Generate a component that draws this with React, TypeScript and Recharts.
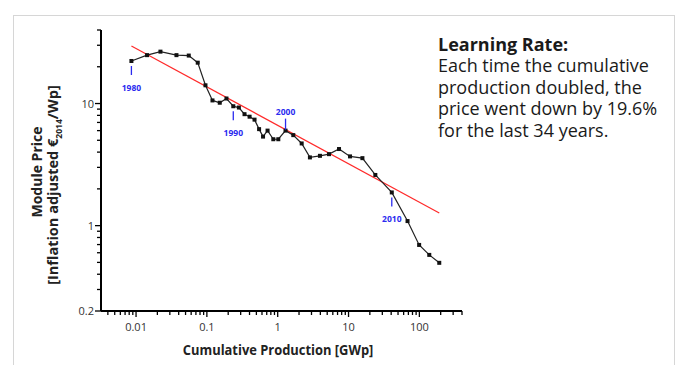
import React from 'react';
import { LineChart, Line, XAxis, YAxis } from 'recharts';

// years 1980 ... 2014
const years = [
  1980, 1981, 1982, 1983, 1984, 1985, 1986, 1987, 1988, 1989,
  1990, 1991, 1992, 1993, 1994, 1995, 1996, 1997, 1998, 1999,
  2000, 2001, 2002, 2003, 2004, 2005, 2006, 2007, 2008, 2009,
  2010, 2011, 2012, 2013, 2014,
];
// cumulative production [GWp]
const cumulativeGWp = [
  0.0086, 0.0143, 0.0221, 0.0372, 0.0555, 0.0743, 0.0955, 0.12, 0.152, 0.189,
  0.236, 0.283, 0.34, 0.401, 0.471, 0.546, 0.621, 0.719, 0.867, 1.02,
  1.29, 1.66, 2.18, 2.85, 3.95, 5.3, 7.34, 10.5, 15.7, 23.9,
  40.8, 68.1, 99.3, 138, 191,
];
// module price [EUR2014/Wp]
const modulePrice = [
  22.3, 24.9, 26.6, 24.9, 24.7, 21.6, 14.1, 10.6, 10.15, 10.99,
  9.5, 9.27, 8.18, 7.8, 7.38, 6.17, 5.36, 6.0, 5.1, 5.1,
  6.0, 5.51, 4.71, 3.62, 3.73, 3.85, 4.24, 3.69, 3.57, 2.6,
  1.87, 1.09, 0.695, 0.576, 0.496,
];
const labeledYears = [1980, 1990, 2000, 2010];

// learning curve fit (start / end)
const fitProd = [0.0086, 191];
const fitPrice = [29.6, 1.27];

const xMajor = [0.01, 0.1, 1, 10, 100];
const xMinor = [
  0.004, 0.005, 0.006, 0.007, 0.008, 0.009,
  0.02, 0.03, 0.04, 0.05, 0.06, 0.07, 0.08, 0.09,
  0.2, 0.3, 0.4, 0.5, 0.6, 0.7, 0.8, 0.9,
  2, 3, 4, 5, 6, 7, 8, 9,
  20, 30, 40, 50, 60, 70, 80, 90,
  200, 300, 400,
];
const yMajor = [0.2, 1, 10];
const yMinor = [
  0.3, 0.4, 0.5, 0.6, 0.7, 0.8, 0.9,
  2, 3, 4, 5, 6, 7, 8, 9,
  20, 30, 40,
];

const series = years.map((year, i) => ({ year, prod: cumulativeGWp[i], price: modulePrice[i] }));
const fit = fitProd.map((prod, i) => ({ prod, fit: fitPrice[i] }));
const xTicks = [...xMajor, ...xMinor].sort((a, b) => a - b);
const yTicks = [...yMajor, ...yMinor].sort((a, b) => a - b);

const tickFont = '"Open Sans", sans-serif';
const blue = '#2b2bef';

const XTick = (props: any) => {
  const { x, y, payload } = props;
  const major = xMajor.includes(payload.value);
  return (
    <g>
      <line x1={x} x2={x} y1={y} y2={y + (major ? 6 : 4)} stroke="#000" strokeWidth={1.3} />
      {major && (
        <text x={x} y={y + 20} textAnchor="middle" fontSize={11} fill="#333" fontFamily={tickFont}>
          {String(payload.value)}
        </text>
      )}
    </g>
  );
};

const YTick = (props: any) => {
  const { x, y, payload } = props;
  const major = yMajor.includes(payload.value);
  return (
    <g>
      <line x1={x} x2={x - (major ? 6 : 4)} y1={y} y2={y} stroke="#000" strokeWidth={1.3} />
      {major && (
        <text x={x - 7} y={y + 4} textAnchor="end" fontSize={11} fill="#333" fontFamily={tickFont}>
          {String(payload.value)}
        </text>
      )}
    </g>
  );
};

const renderDot = (props: any) => {
  const { cx, cy, payload, index } = props;
  const labeled = labeledYears.includes(payload.year);
  const above = payload.year === 2000;
  return (
    <g key={`dot-${index}`}>
      <rect x={cx - 2} y={cy - 2} width={4} height={4} fill="#111" />
      {labeled && (above ? (
        <g>
          <line x1={cx} x2={cx} y1={cy - 1} y2={cy - 12} stroke={blue} strokeWidth={1.3} />
          <text x={cx} y={cy - 16} textAnchor="middle" fontSize={8.5} fontWeight="bold" fill={blue} fontFamily={tickFont}>
            {payload.year}
          </text>
        </g>
      ) : (
        <g>
          <line x1={cx} x2={cx} y1={cy + 5} y2={cy + 14} stroke={blue} strokeWidth={1.3} />
          <text x={cx} y={cy + 30} textAnchor="middle" fontSize={8.5} fontWeight="bold" fill={blue} fontFamily={tickFont}>
            {payload.year}
          </text>
        </g>
      ))}
    </g>
  );
};

export default function App() {
  return (
    <div style={{ position: 'absolute', left: 0, top: 0, width: 678, height: 365, overflow: 'hidden', background: '#fff', fontFamily: tickFont }}>
      <div style={{ position: 'absolute', left: 13, top: 15, width: 660, height: 370, border: '1.5px solid #d6d6d6' }} />
      <LineChart width={678} height={365} margin={{ top: 30, right: 216, bottom: 23, left: 41 }} style={{ position: 'absolute', left: 0, top: 0 }}>
        <XAxis
          dataKey="prod"
          type="number"
          scale="log"
          domain={[0.0032, 400]}
          allowDataOverflow
          ticks={xTicks}
          interval={0}
          tickSize={0}
          tickMargin={0}
          tickLine={false}
          tick={<XTick />}
          axisLine={{ stroke: '#000', strokeWidth: 2 }}
          height={31}
        />
        <YAxis
          type="number"
          scale="log"
          domain={[0.2, 40]}
          allowDataOverflow
          ticks={yTicks}
          interval={0}
          tickSize={0}
          tickMargin={0}
          tickLine={false}
          tick={<YTick />}
          axisLine={{ stroke: '#000', strokeWidth: 2 }}
          width={60}
        />
        <Line data={fit} dataKey="fit" stroke="#ff2a2a" strokeWidth={1.2} dot={false} isAnimationActive={false} />
        <Line data={series} dataKey="price" stroke="#222" strokeWidth={1.2} dot={renderDot} isAnimationActive={false} />
      </LineChart>

      <div style={{ position: 'absolute', left: 278 - 150, top: 340, width: 300, height: 20, lineHeight: '20px', textAlign: 'center', fontSize: 14.5, fontWeight: 'bold', color: '#222', whiteSpace: 'nowrap' }}>
        <span style={{ display: 'inline-block', transform: 'scaleX(0.89)' }}>Cumulative Production [GWp]</span>
      </div>

      <div style={{ position: 'absolute', left: 37 - 150, top: 172 - 10, width: 300, height: 20, lineHeight: '20px', textAlign: 'center', fontSize: 14, fontWeight: 'bold', color: '#222', whiteSpace: 'nowrap', transform: 'rotate(-90deg)' }}>
        Module Price
      </div>
      <div style={{ position: 'absolute', left: 53 - 150, top: 185 - 10, width: 300, height: 20, lineHeight: '20px', textAlign: 'center', fontSize: 14.5, fontWeight: 'bold', color: '#222', whiteSpace: 'nowrap', transform: 'rotate(-90deg)' }}>
        [Inflation adjusted €<sub style={{ fontSize: 8.5 }}>2014</sub>/Wp]
      </div>

      <div style={{ position: 'absolute', left: 438, top: 34, fontSize: 18, lineHeight: '21.4px', color: '#1a1a1a', whiteSpace: 'nowrap' }}>
        <div style={{ fontWeight: 'bold' }}>Learning Rate:</div>
        <div>Each time the cumulative</div>
        <div>production doubled, the</div>
        <div>price went down by 19.6%</div>
        <div>for the last 34 years.</div>
      </div>
    </div>
  );
}
